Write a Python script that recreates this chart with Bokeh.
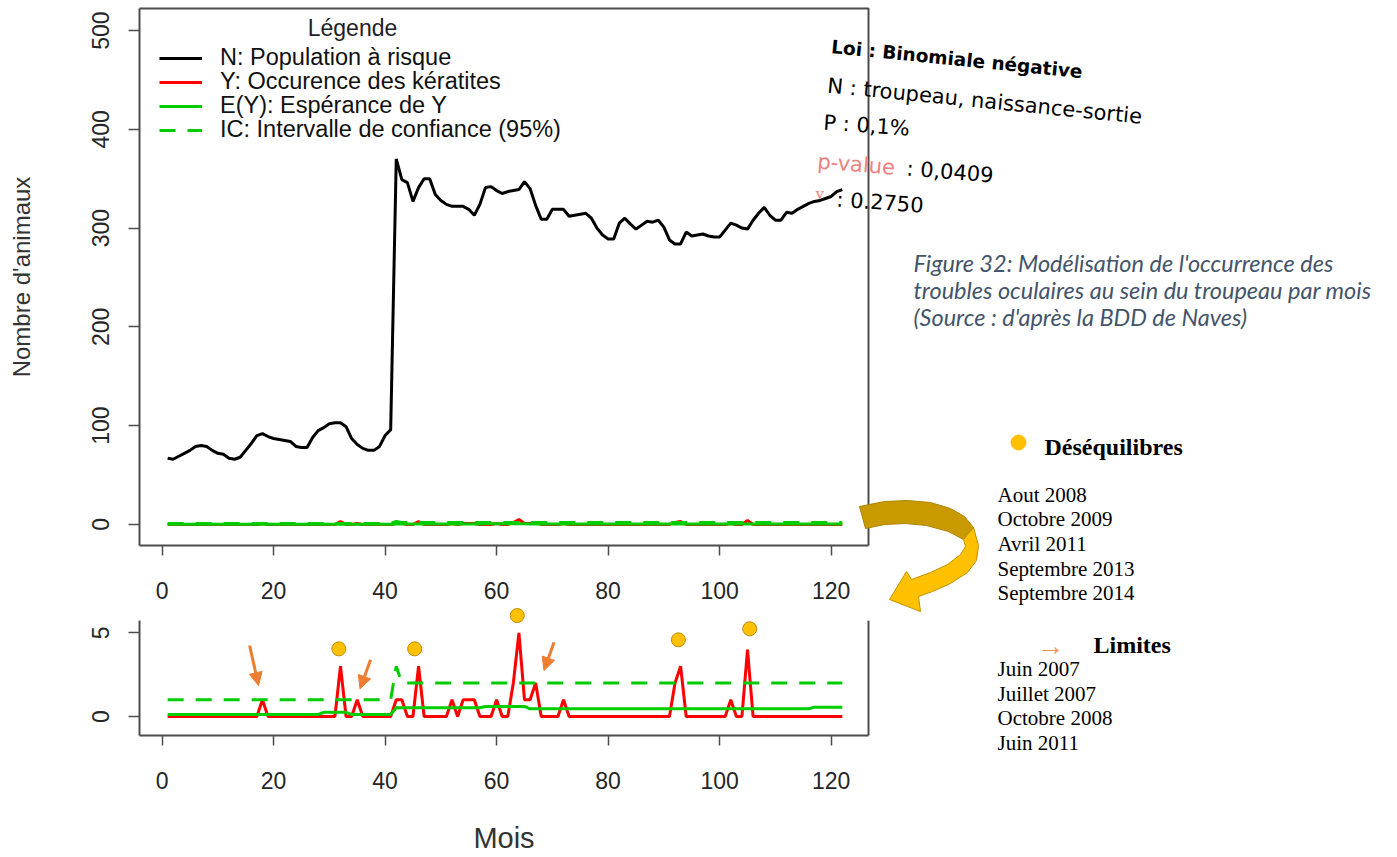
from bokeh.plotting import figure
from bokeh.models import (Range1d, LinearAxis, FixedTicker, Label, Legend, LegendItem,
                          Arrow, NormalHead, ColumnDataSource)
from bokeh.embed import file_html
from bokeh.resources import INLINE

# ---------------- data ----------------
months = list(range(1, 123))

N_population = [
    67, 66, 69, 72, 75, 79, 80, 79, 75, 72,
    71, 67, 66, 68, 75, 82, 90, 92, 89, 87,
    86, 85, 84, 79, 78, 78, 88, 95, 98, 102,
    103, 103, 99, 87, 81, 77, 75, 75, 79, 90,
    96, 370, 349, 346, 327, 341, 350, 350, 334, 328,
    324, 322, 322, 322, 319, 313, 324, 341, 342, 338,
    335, 337, 338, 339, 347, 340, 323, 309, 309, 319,
    319, 319, 312, 313, 314, 315, 310, 300, 293, 289,
    289, 305, 310, 304, 299, 303, 307, 306, 308, 301,
    288, 284, 284, 296, 292, 293, 294, 292, 291, 291,
    298, 305, 303, 300, 299, 308, 315, 321, 313, 308,
    308, 316, 315, 319, 322, 325, 327, 328, 330, 332,
    337, 339]

# keratitis occurrences (months with non-zero counts)
Y_events = {18: 1, 32: 3, 35: 1, 42: 1, 43: 1, 46: 3, 52: 1, 54: 1, 55: 1, 56: 1,
            60: 1, 63: 2, 64: 5, 65: 1, 66: 1, 67: 2, 72: 1, 92: 2, 93: 3,
            102: 1, 105: 4}
Y_occ = [Y_events.get(m, 0) for m in months]

# expected value E(Y): piecewise levels (first month, last month, value)
E_levels = [(1, 28, 0.12), (29, 33, 0.25), (34, 41, 0.12), (42, 57, 0.52),
            (58, 65, 0.60), (66, 116, 0.46), (117, 122, 0.56)]
E_y = [next(v for a, b, v in E_levels if a <= m <= b) for m in months]

# 95% confidence interval upper bound: piecewise levels
IC_levels = [(1, 41, 1), (42, 42, 3), (43, 122, 2)]
IC_y = [next(v for a, b, v in IC_levels if a <= m <= b) for m in months]

x_ticks = [0, 20, 40, 60, 80, 100, 120]
y_ticks_top = [0, 100, 200, 300, 400, 500]
y_ticks_bot = [0, 5]

# annotations on the lower panel
deseq_x = [31.7, 45.3, 63.7, 92.6, 105.4]
deseq_y = [4.04, 4.04, 6.03, 4.58, 5.24]
limit_x0 = [15.7, 37.4, 70.3]
limit_y0 = [4.24, 3.39, 4.44]
limit_x1 = [17.3, 35.5, 68.5]
limit_y1 = [1.85, 1.65, 2.75]

deseq_dates = ["Aout 2008", "Octobre 2009", "Avril 2011", "Septembre 2013", "Septembre 2014"]
limit_dates = ["Juin 2007", "Juillet 2007", "Octobre 2008", "Juin 2011"]

legend_labels = ["N: Population à risque", "Y: Occurence des kératites",
                 "E(Y): Espérance de Y", "IC: Intervalle de confiance (95%)"]

# ---------------- layout (page pixels) ----------------
W, H = 1390, 856
PX_L, PX_R = 139, 868            # both panels, left / right edge
TOP_PX = (545, 8)                # top panel bottom / top edge
BOT_PX = (735, 609)              # bottom panel bottom / top of drawing area
XR = (-4.05, 126.7)              # month range of both panels
TYR = (-21.3, 522.3)             # animals range of the top panel
BYR = (-1.135, 6.392)            # count range of the bottom panel drawing area
BOT_BOX_TOP = 5.73               # where the lower panel's side lines stop


def full_range(v0, v1, p0, p1, q0, q1):
    """Range covering pixels q0..q1 given that value v0 sits at pixel p0, v1 at p1."""
    k = (v1 - v0) / (p1 - p0)
    return Range1d(v0 + (q0 - p0) * k, v0 + (q1 - p0) * k)


FONT = "Liberation Sans"
TXT = "#262626"
BOX = "#4d4d4d"
GREEN = "#00CD00"
RED = "#FF0000"
GOLD = "#FFC000"
ORANGE = "#ED7D31"

p = figure(width=W, height=H, x_range=Range1d(0, W), y_range=Range1d(H, 0),
           x_axis_type=None, y_axis_type=None, output_backend="svg", toolbar_location=None,
           min_border_left=0, min_border_right=0, min_border_top=0, min_border_bottom=0)
p.outline_line_color = None
p.grid.visible = False
p.extra_x_ranges = {"tx": full_range(XR[0], XR[1], PX_L, PX_R, 0, W)}
p.extra_y_ranges = {"ty": full_range(TYR[0], TYR[1], TOP_PX[0], TOP_PX[1], H, 0),
                    "by": full_range(BYR[0], BYR[1], BOT_PX[0], BOT_PX[1], H, 0)}


def make_axis(yname, loc, bounds, ticks, vertical_labels=False, label=None,
              label_size="24px", standoff=26, label_standoff=30, tick_out=10):
    ax = LinearAxis(x_range_name="tx", y_range_name=yname, fixed_location=loc,
                    bounds=bounds, ticker=FixedTicker(ticks=ticks))
    ax.major_label_text_font = FONT
    ax.major_label_text_font_size = "23px"
    ax.major_label_text_color = TXT
    ax.major_tick_out = tick_out
    ax.major_tick_in = 0
    ax.minor_tick_line_color = None
    ax.major_tick_line_color = BOX
    ax.major_tick_line_width = 1.5
    ax.axis_line_color = BOX
    ax.axis_line_width = 2
    ax.major_label_standoff = standoff
    if vertical_labels:
        ax.major_label_orientation = "vertical"
    if label:
        ax.axis_label = label
        ax.axis_label_text_font = FONT
        ax.axis_label_text_font_style = "normal"
        ax.axis_label_text_color = "#333333"
        ax.axis_label_text_font_size = label_size
        ax.axis_label_standoff = label_standoff
    return ax


# top panel axes and box
p.add_layout(make_axis("ty", TYR[0], XR, x_ticks, standoff=26), "below")
p.add_layout(make_axis("ty", XR[0], TYR, y_ticks_top, vertical_labels=True,
                       label="Nombre d'animaux", standoff=19, label_standoff=55,
                       tick_out=11), "left")
p.line([XR[0], XR[1], XR[1]], [TYR[1], TYR[1], TYR[0]], x_range_name="tx",
       y_range_name="ty", line_color=BOX, line_width=2)

# bottom panel axes and side lines
p.add_layout(make_axis("by", BYR[0], XR, x_ticks, label="Mois", label_size="29px",
                       standoff=26, label_standoff=30), "below")
p.add_layout(make_axis("by", XR[0], (BYR[0], BOT_BOX_TOP), y_ticks_bot, vertical_labels=True,
                       standoff=19, tick_out=11), "left")
p.line([XR[1], XR[1]], [BYR[0], BOT_BOX_TOP], x_range_name="tx", y_range_name="by",
       line_color=BOX, line_width=2)

# ---------------- top panel series ----------------
rN = p.line(months, N_population, x_range_name="tx", y_range_name="ty",
            line_color="black", line_width=3)
rY = p.line(months, Y_occ, x_range_name="tx", y_range_name="ty", line_color=RED, line_width=3)
rE = p.line(months, E_y, x_range_name="tx", y_range_name="ty", line_color=GREEN, line_width=3)
rIC = p.line(months, IC_y, x_range_name="tx", y_range_name="ty", line_color=GREEN,
             line_width=3, line_dash="16 12")

# ---------------- bottom panel series ----------------
p.line(months, Y_occ, x_range_name="tx", y_range_name="by", line_color=RED, line_width=3)
p.line(months, E_y, x_range_name="tx", y_range_name="by", line_color=GREEN, line_width=3)
p.line(months, IC_y, x_range_name="tx", y_range_name="by", line_color=GREEN, line_width=3,
       line_dash="16 12")
p.scatter(deseq_x, deseq_y, x_range_name="tx", y_range_name="by", size=14,
          fill_color=GOLD, line_color="#C08A00", line_width=1)
arrow_src = ColumnDataSource(dict(x0=limit_x0, y0=limit_y0, x1=limit_x1, y1=limit_y1))
p.add_layout(Arrow(end=NormalHead(size=13, fill_color=ORANGE, line_color=ORANGE),
                   x_start="x0", y_start="y0", x_end="x1", y_end="y1",
                   x_range_name="tx", y_range_name="by",
                   line_color=ORANGE, line_width=3, source=arrow_src))

# ---------------- legend (one row per item) ----------------
legend_row_y = [57, 81, 105, 129]
for text, r, cy in zip(legend_labels, [rN, rY, rE, rIC], legend_row_y):
    p.add_layout(Legend(items=[LegendItem(label=text, renderers=[r])],
                        location=(159, H - cy - 14), orientation="vertical",
                        glyph_width=43, glyph_height=24, label_height=24, label_standoff=18,
                        padding=5, border_line_color=None, background_fill_alpha=0,
                        label_text_font=FONT, label_text_font_size="23.5px",
                        label_text_color="#111111"))


def lab(x, y, text, size, color="#000000", font="Liberation Serif", style="normal",
        align="left", baseline="middle", angle=0.0):
    p.add_layout(Label(x=x, y=y, text=text, text_font=font, text_font_size=size,
                       text_color=color, text_font_style=style, text_align=align,
                       text_baseline=baseline, angle=angle))


lab(352, 27, "Légende", "23px", color="#222222", font=FONT, align="center")

# handwritten-style model summary
HW = "DejaVu Sans"
PINK = "#F08080"
lab(831, 46, "Loi : Binomiale négative", "18.5px", font=HW, style="bold",
    baseline="alphabetic", angle=-0.1)
lab(827, 85, "N : troupeau, naissance-sortie", "21px", font=HW, baseline="alphabetic",
    angle=-0.099)
lab(823, 122, "P : 0,1%", "21px", font=HW, baseline="alphabetic", angle=-0.07)
lab(817, 161, "p-value", "21px", color=PINK, font=HW, baseline="alphabetic", angle=-0.08)
lab(906, 168, ": 0,0409", "21px", font=HW, baseline="alphabetic", angle=-0.08)
lab(815, 193, "v", "17px", color=PINK, font="Liberation Serif", baseline="alphabetic")
lab(836, 199, ": 0.2750", "21px", font=HW, baseline="alphabetic", angle=-0.07)

# figure caption
CAP = "#44546A"
for i, t in enumerate(["Figure 32: Modélisation de l'occurrence des",
                       "troubles oculaires au sein du troupeau par mois",
                       "(Source : d'après la BDD de Naves)"]):
    lab(913, 262 + 27 * i, t, "23.5px", color=CAP, font="Lato", style="italic")

# big curved arrow (decoration, page pixels)
arrow_dark_x = [859, 884, 907, 930, 950, 964, 973, 963, 948, 926, 905, 884, 865]
arrow_dark_y = [506, 501, 500, 502, 508, 516, 527, 539, 531, 525, 523, 524, 528]
arrow_light_x = [973, 978, 976, 967, 950, 932, 918, 920, 889, 906, 911, 930, 947, 960, 965, 963]
arrow_light_y = [527, 545, 560, 572, 583, 591, 596, 611, 599, 571, 579, 572, 564, 554, 546, 539]
p.patch(arrow_dark_x, arrow_dark_y, fill_color="#C99A00", line_color="#B08400", line_width=1)
p.patch(arrow_light_x, arrow_light_y, fill_color=GOLD, line_color="#C09000", line_width=1)

# side notes: disequilibria
p.scatter([1018], [442], size=15, fill_color=GOLD, line_color=GOLD)
lab(1044, 446, "Déséquilibres", "24px", style="bold")
for i, d in enumerate(deseq_dates):
    lab(997, 494 + 24.7 * i, d, "21px")

# side notes: limits
lab(1050, 645, "→", "27px", color="#F0904C", align="center")
lab(1093, 644, "Limites", "24px", style="bold")
for i, d in enumerate(limit_dates):
    lab(997, 668.5 + 24.7 * i, d, "21px")

open("out.html", "w").write(file_html(p, INLINE, "Modélisation"))
